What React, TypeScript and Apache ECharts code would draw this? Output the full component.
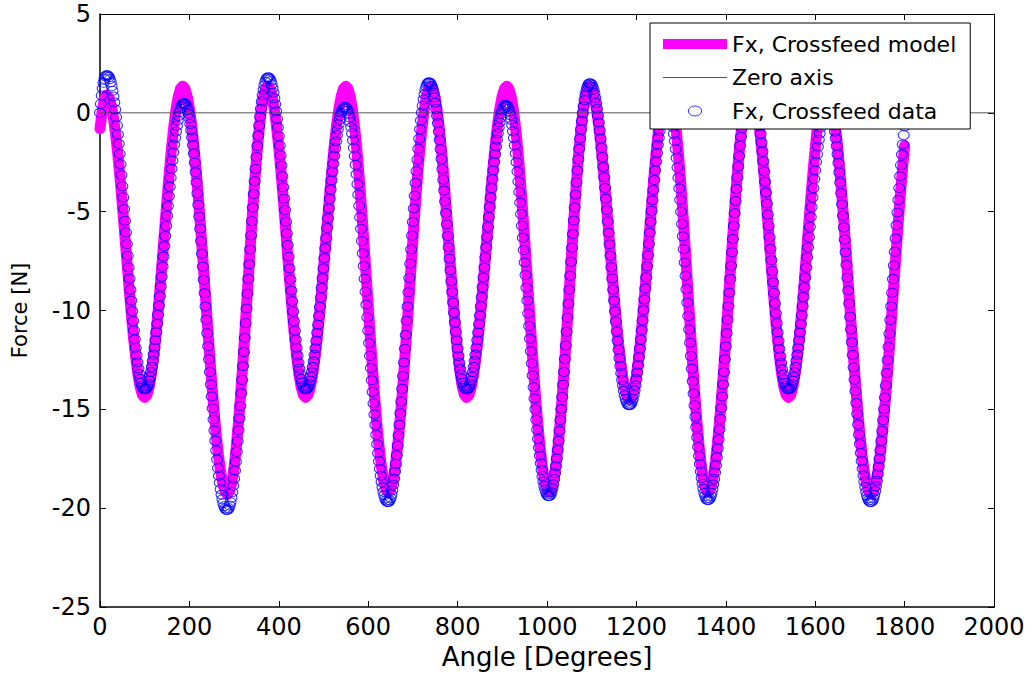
import React, { useEffect, useRef } from "react";
import * as echarts from "echarts";

// ---- axes ----
const X_MIN = 0;
const X_MAX = 2000;
const X_INTERVAL = 200;
const Y_MIN = -25;
const Y_MAX = 5;
const Y_INTERVAL = 5;

const X_TITLE = "Angle [Degrees]";
const Y_TITLE = "Force [N]";
const NAME_MODEL = "Fx, Crossfeed model";
const NAME_ZERO = "Zero axis";
const NAME_DATA = "Fx, Crossfeed data";

// ---- model (sampled every 5 degrees from 0) ----
const MODEL_START = 0;
const MODEL_STEP = 5;
const MODEL_FX = [
  -0.8, 0.1, 0.7, 0.9, 0.77, 0.38, -0.25, -1.10, -2.14, -3.34,
  -4.66, -6.04, -7.46, -8.84, -10.16, -11.36, -12.40, -13.25, -13.88, -14.27,
  -14.4, -14.27, -13.87, -13.22, -12.35, -11.27, -10.04, -8.68, -7.25, -5.80,
  -4.37, -3.01, -1.78, -0.71, 0.17, 0.82, 1.22, 1.35, 1.22, 0.84,
  0.22, -0.62, -1.67, -2.91, -4.29, -5.78, -7.36, -8.98, -10.59, -12.17,
  -13.66, -15.04, -16.28, -17.33, -18.17, -18.79, -19.17, -19.3, -19.14, -18.68,
  -17.92, -16.88, -15.61, -14.14, -12.51, -10.77, -8.98, -7.18, -5.44, -3.81,
  -2.34, -1.07, -0.03, 0.73, 1.19, 1.35, 1.22, 0.82, 0.17, -0.71,
  -1.78, -3.01, -4.37, -5.80, -7.25, -8.68, -10.04, -11.27, -12.34, -13.22,
  -13.87, -14.27, -14.4, -14.28, -13.92, -13.35, -12.56, -11.59, -10.46, -9.22,
  -7.89, -6.53, -5.16, -3.83, -2.59, -1.46, -0.49, 0.29, 0.87, 1.23,
  1.35, 1.21, 0.79, 0.11, -0.82, -1.96, -3.31, -4.80, -6.40, -8.08,
  -9.77, -11.45, -13.05, -14.54, -15.89, -17.03, -17.96, -18.64, -19.06, -19.2,
  -19.06, -18.64, -17.96, -17.03, -15.89, -14.54, -13.05, -11.45, -9.77, -8.08,
  -6.40, -4.80, -3.31, -1.96, -0.82, 0.11, 0.79, 1.21, 1.35, 1.20,
  0.75, 0.02, -0.96, -2.15, -3.51, -4.99, -6.53, -8.06, -9.54, -10.90,
  -12.09, -13.07, -13.80, -14.25, -14.4, -14.28, -13.92, -13.35, -12.56, -11.59,
  -10.46, -9.22, -7.89, -6.53, -5.16, -3.83, -2.59, -1.46, -0.49, 0.29,
  0.87, 1.23, 1.35, 1.21, 0.79, 0.11, -0.82, -1.96, -3.31, -4.80,
  -6.40, -8.08, -9.77, -11.45, -13.05, -14.54, -15.89, -17.03, -17.96, -18.64,
  -19.06, -19.2, -19.04, -18.58, -17.82, -16.80, -15.53, -14.06, -12.44, -10.71,
  -8.93, -7.14, -5.41, -3.79, -2.32, -1.05, -0.02, 0.73, 1.19, 1.35,
  1.23, 0.87, 0.29, -0.50, -1.48, -2.61, -3.86, -5.20, -6.58, -7.95,
  -9.29, -10.54, -11.67, -12.65, -13.44, -14.02, -14.38, -14.5, -14.37, -13.96,
  -13.31, -12.43, -11.35, -10.11, -8.74, -7.31, -5.84, -4.41, -3.04, -1.80,
  -0.72, 0.16, 0.81, 1.22, 1.35, 1.19, 0.73, -0.02, -1.05, -2.32,
  -3.79, -5.41, -7.14, -8.93, -10.71, -12.44, -14.06, -15.53, -16.80, -17.82,
  -18.58, -19.04, -19.2, -19.06, -18.64, -17.96, -17.03, -15.89, -14.54, -13.05,
  -11.45, -9.77, -8.08, -6.40, -4.80, -3.31, -1.96, -0.82, 0.11, 0.79,
  1.21, 1.35, 1.22, 0.82, 0.17, -0.71, -1.78, -3.01, -4.37, -5.80,
  -7.25, -8.68, -10.04, -11.27, -12.34, -13.22, -13.87, -14.27, -14.4, -14.27,
  -13.87, -13.22, -12.35, -11.27, -10.04, -8.68, -7.25, -5.80, -4.37, -3.01,
  -1.78, -0.71, 0.17, 0.82, 1.22, 1.35, 1.22, 0.84, 0.22, -0.62,
  -1.67, -2.91, -4.29, -5.78, -7.36, -8.98, -10.59, -12.17, -13.66, -15.04,
  -16.28, -17.33, -18.17, -18.79, -19.17, -19.3, -19.17, -18.79, -18.17, -17.33,
  -16.28, -15.04, -13.66, -12.17, -10.59, -8.98, -7.36, -5.78, -4.29, -2.91,
  -1.67,
];

// ---- measured data (sampled every 2 degrees from 0) ----
const DATA_START = 0;
const DATA_STEP = 2;
const DATA_FX = [
  0.0, 0.45, 0.88, 1.23, 1.52, 1.72, 1.84, 1.89, 1.9, 1.88,
  1.81, 1.70, 1.55, 1.35, 1.11, 0.83, 0.52, 0.17, -0.22, -0.64,
  -1.09, -1.57, -2.08, -2.60, -3.15, -3.71, -4.28, -4.87, -5.46, -6.05,
  -6.64, -7.23, -7.82, -8.39, -8.95, -9.50, -10.03, -10.53, -11.01, -11.46,
  -11.88, -12.27, -12.62, -12.93, -13.21, -13.45, -13.65, -13.80, -13.91, -13.98,
  -14.0, -13.98, -13.93, -13.83, -13.71, -13.54, -13.34, -13.11, -12.85, -12.55,
  -12.23, -11.88, -11.50, -11.09, -10.67, -10.22, -9.76, -9.28, -8.79, -8.29,
  -7.78, -7.27, -6.75, -6.23, -5.72, -5.21, -4.71, -4.22, -3.74, -3.28,
  -2.83, -2.41, -2.00, -1.62, -1.27, -0.95, -0.65, -0.39, -0.16, 0.04,
  0.21, 0.33, 0.43, 0.48, 0.5, 0.48, 0.41, 0.30, 0.15, -0.05,
  -0.28, -0.56, -0.88, -1.24, -1.63, -2.06, -2.52, -3.01, -3.53, -4.08,
  -4.65, -5.25, -5.86, -6.49, -7.13, -7.79, -8.45, -9.13, -9.80, -10.47,
  -11.15, -11.81, -12.47, -13.11, -13.74, -14.35, -14.95, -15.52, -16.07, -16.59,
  -17.08, -17.54, -17.97, -18.36, -18.72, -19.04, -19.32, -19.55, -19.75, -19.90,
  -20.01, -20.08, -20.1, -20.07, -20.00, -19.87, -19.70, -19.47, -19.19, -18.87,
  -18.51, -18.10, -17.65, -17.15, -16.62, -16.06, -15.46, -14.84, -14.19, -13.51,
  -12.82, -12.10, -11.38, -10.64, -9.90, -9.15, -8.40, -7.66, -6.92, -6.20,
  -5.48, -4.79, -4.11, -3.46, -2.84, -2.24, -1.68, -1.15, -0.65, -0.20,
  0.21, 0.57, 0.89, 1.17, 1.39, 1.57, 1.70, 1.77, 1.8, 1.78,
  1.71, 1.60, 1.45, 1.25, 1.02, 0.74, 0.43, 0.08, -0.31, -0.73,
  -1.18, -1.65, -2.15, -2.67, -3.21, -3.77, -4.34, -4.92, -5.51, -6.10,
  -6.69, -7.28, -7.86, -8.43, -8.99, -9.53, -10.05, -10.55, -11.02, -11.47,
  -11.89, -12.28, -12.63, -12.94, -13.22, -13.45, -13.65, -13.80, -13.91, -13.98,
  -14.0, -13.98, -13.93, -13.84, -13.71, -13.55, -13.35, -13.13, -12.86, -12.57,
  -12.25, -11.91, -11.53, -11.13, -10.72, -10.28, -9.82, -9.35, -8.86, -8.37,
  -7.87, -7.36, -6.85, -6.34, -5.83, -5.33, -4.84, -4.35, -3.88, -3.42,
  -2.98, -2.57, -2.17, -1.79, -1.45, -1.13, -0.84, -0.58, -0.35, -0.15,
  0.01, 0.14, 0.23, 0.28, 0.3, 0.28, 0.21, 0.11, -0.04, -0.23,
  -0.46, -0.73, -1.04, -1.39, -1.77, -2.18, -2.63, -3.11, -3.61, -4.14,
  -4.70, -5.28, -5.87, -6.49, -7.11, -7.75, -8.39, -9.05, -9.70, -10.35,
  -11.01, -11.65, -12.29, -12.91, -13.53, -14.12, -14.70, -15.26, -15.79, -16.29,
  -16.77, -17.22, -17.63, -18.01, -18.36, -18.67, -18.94, -19.17, -19.36, -19.51,
  -19.61, -19.68, -19.7, -19.67, -19.60, -19.48, -19.31, -19.09, -18.82, -18.51,
  -18.15, -17.76, -17.32, -16.84, -16.33, -15.78, -15.20, -14.60, -13.96, -13.31,
  -12.63, -11.94, -11.24, -10.52, -9.80, -9.08, -8.35, -7.63, -6.91, -6.21,
  -5.52, -4.84, -4.19, -3.55, -2.95, -2.37, -1.82, -1.31, -0.83, -0.39,
  0.00, 0.36, 0.67, 0.94, 1.16, 1.33, 1.45, 1.52, 1.55, 1.53,
  1.46, 1.36, 1.20, 1.01, 0.78, 0.51, 0.20, -0.15, -0.53, -0.94,
  -1.38, -1.84, -2.34, -2.85, -3.38, -3.93, -4.49, -5.07, -5.64, -6.23,
  -6.81, -7.38, -7.96, -8.52, -9.07, -9.60, -10.11, -10.61, -11.07, -11.51,
  -11.92, -12.30, -12.65, -12.96, -13.23, -13.46, -13.65, -13.81, -13.91, -13.98,
  -14.0, -13.98, -13.93, -13.84, -13.71, -13.55, -13.35, -13.12, -12.86, -12.56,
  -12.24, -11.89, -11.51, -11.11, -10.69, -10.25, -9.79, -9.32, -8.83, -8.33,
  -7.83, -7.31, -6.80, -6.29, -5.77, -5.27, -4.77, -4.28, -3.81, -3.35,
  -2.91, -2.49, -2.09, -1.71, -1.36, -1.04, -0.74, -0.48, -0.25, -0.05,
  0.11, 0.24, 0.33, 0.38, 0.4, 0.38, 0.31, 0.21, 0.06, -0.12,
  -0.35, -0.62, -0.93, -1.27, -1.65, -2.06, -2.50, -2.97, -3.47, -4.00,
  -4.55, -5.12, -5.71, -6.32, -6.94, -7.57, -8.21, -8.85, -9.50, -10.15,
  -10.79, -11.43, -12.06, -12.68, -13.29, -13.88, -14.45, -15.00, -15.53, -16.03,
  -16.50, -16.94, -17.35, -17.73, -18.07, -18.38, -18.65, -18.88, -19.06, -19.21,
  -19.31, -19.38, -19.4, -19.38, -19.30, -19.18, -19.01, -18.80, -18.53, -18.23,
  -17.88, -17.49, -17.06, -16.59, -16.08, -15.54, -14.98, -14.38, -13.76, -13.11,
  -12.45, -11.77, -11.08, -10.37, -9.66, -8.95, -8.24, -7.53, -6.82, -6.13,
  -5.45, -4.79, -4.14, -3.52, -2.92, -2.36, -1.82, -1.31, -0.84, -0.41,
  -0.02, 0.33, 0.64, 0.90, 1.11, 1.28, 1.40, 1.48, 1.5, 1.48,
  1.42, 1.31, 1.17, 0.99, 0.76, 0.50, 0.21, -0.13, -0.49, -0.89,
  -1.31, -1.77, -2.24, -2.74, -3.26, -3.80, -4.35, -4.92, -5.49, -6.07,
  -6.65, -7.23, -7.81, -8.38, -8.95, -9.50, -10.04, -10.56, -11.06, -11.53,
  -11.99, -12.41, -12.81, -13.17, -13.51, -13.80, -14.06, -14.29, -14.47, -14.61,
  -14.72, -14.78, -14.8, -14.78, -14.72, -14.61, -14.46, -14.27, -14.05, -13.78,
  -13.48, -13.14, -12.77, -12.37, -11.94, -11.48, -11.00, -10.50, -9.98, -9.44,
  -8.89, -8.33, -7.77, -7.20, -6.63, -6.07, -5.51, -4.96, -4.42, -3.90,
  -3.40, -2.92, -2.46, -2.03, -1.63, -1.26, -0.92, -0.62, -0.35, -0.13,
  0.06, 0.21, 0.32, 0.38, 0.4, 0.38, 0.31, 0.19, 0.03, -0.18,
  -0.43, -0.72, -1.06, -1.43, -1.84, -2.29, -2.77, -3.29, -3.83, -4.40,
  -5.00, -5.62, -6.25, -6.90, -7.57, -8.24, -8.92, -9.60, -10.28, -10.96,
  -11.63, -12.30, -12.95, -13.58, -14.20, -14.80, -15.37, -15.91, -16.43, -16.91,
  -17.36, -17.77, -18.14, -18.48, -18.77, -19.02, -19.23, -19.39, -19.51, -19.58,
  -19.6, -19.58, -19.51, -19.40, -19.24, -19.04, -18.80, -18.52, -18.19, -17.83,
  -17.43, -16.99, -16.53, -16.02, -15.49, -14.93, -14.35, -13.74, -13.12, -12.47,
  -11.82, -11.15, -10.47, -9.79, -9.10, -8.41, -7.73, -7.05, -6.38, -5.73,
  -5.08, -4.46, -3.85, -3.27, -2.71, -2.18, -1.67, -1.21, -0.77, -0.37,
  -0.01, 0.32, 0.60, 0.84, 1.04, 1.20, 1.31, 1.38, 1.4, 1.38,
  1.31, 1.21, 1.06, 0.87, 0.64, 0.37, 0.06, -0.28, -0.66, -1.06,
  -1.50, -1.96, -2.45, -2.96, -3.49, -4.03, -4.59, -5.15, -5.72, -6.30,
  -6.88, -7.45, -8.01, -8.57, -9.11, -9.64, -10.15, -10.64, -11.10, -11.54,
  -11.94, -12.32, -12.66, -12.97, -13.24, -13.47, -13.66, -13.81, -13.91, -13.98,
  -14.0, -13.98, -13.93, -13.84, -13.71, -13.55, -13.35, -13.12, -12.86, -12.56,
  -12.24, -11.89, -11.51, -11.11, -10.69, -10.25, -9.79, -9.32, -8.83, -8.33,
  -7.83, -7.31, -6.80, -6.29, -5.77, -5.27, -4.77, -4.28, -3.81, -3.35,
  -2.91, -2.49, -2.09, -1.71, -1.36, -1.04, -0.74, -0.48, -0.25, -0.05,
  0.11, 0.24, 0.33, 0.38, 0.4, 0.38, 0.31, 0.21, 0.06, -0.13,
  -0.37, -0.64, -0.95, -1.29, -1.68, -2.09, -2.54, -3.02, -3.53, -4.07,
  -4.63, -5.21, -5.80, -6.42, -7.05, -7.69, -8.34, -8.99, -9.65, -10.31,
  -10.96, -11.61, -12.25, -12.88, -13.50, -14.09, -14.68, -15.23, -15.77, -16.28,
  -16.76, -17.21, -17.62, -18.01, -18.35, -18.66, -18.93, -19.17, -19.36, -19.51,
  -19.61, -19.68, -19.7, -19.68, -19.61, -19.50, -19.34, -19.14, -18.89, -18.61,
  -18.28, -17.91, -17.51, -17.07, -16.60, -16.09, -15.55, -14.99, -14.40, -13.79,
  -13.16, -12.51, -11.84, -11.17, -10.48, -9.79, -9.10, -8.41, -7.72, -7.03,
  -6.36, -5.69, -5.04, -4.41, -3.80, -3.21, -2.65, -2.11, -1.60, -1.13,
  -0.69,
];

// ---- zero reference line ----
const ZERO_X = [0, 2000];
const ZERO_Y = [0, 0];

const FONT = "DejaVu Sans";
const MAGENTA = "#ff00ff";
const BLUE = "#0000ff";
const ZERO_COLOR = "#555555";
const ELLIPSE = "path://M0,4.5A6,4.5,0,1,1,12,4.5A6,4.5,0,1,1,0,4.5Z";
const THIN_BAR = "path://M0,0H64V1H0Z";

export default function App() {
  const ref = useRef<HTMLDivElement>(null);

  useEffect(() => {
    if (!ref.current) return;
    const chart = echarts.init(ref.current, null, { renderer: "svg" });

    const modelData = MODEL_FX.map((v, i) => [MODEL_START + i * MODEL_STEP, v]);
    const dataPts = DATA_FX.map((v, i) => [DATA_START + i * DATA_STEP, v]);
    const zeroData = ZERO_X.map((x, i) => [x, ZERO_Y[i]]);

    const axisLine = { show: true, onZero: false, lineStyle: { color: "#000", width: 1.5 } };
    const axisLineThin = { show: true, onZero: false, lineStyle: { color: "#000", width: 1 } };
    const tick = { show: true, inside: true, length: 6, lineStyle: { color: "#000", width: 1 } };
    const plain = (v: number) => String(v);

    const option: any = {
      animation: false,
      backgroundColor: "#fff",
      grid: { left: 100, right: 38, top: 14, bottom: 69, containLabel: false, outerBoundsMode: "none" },
      legend: {
        orient: "vertical",
        left: 650,
        top: 23,
        z: 20,
        zlevel: 0,
        itemWidth: 64,
        itemHeight: 10,
        itemGap: 11.5,
        padding: [10, 14, 7, 13],
        backgroundColor: "#fff",
        borderColor: "#000",
        borderWidth: 1,
        borderRadius: 0,
        selectedMode: false,
        textStyle: { fontSize: 22, fontFamily: FONT, color: "#000" },
        data: [
          { name: NAME_MODEL, icon: "rect", itemStyle: { color: MAGENTA } },
          { name: NAME_ZERO, icon: THIN_BAR, itemStyle: { color: ZERO_COLOR } },
          {
            name: NAME_DATA,
            icon: ELLIPSE,
            itemStyle: { color: "rgba(0,0,0,0)", borderColor: BLUE, borderWidth: 1 },
          },
        ],
      },
      xAxis: [
        {
          type: "value",
          position: "bottom",
          min: X_MIN,
          max: X_MAX,
          interval: X_INTERVAL,
          axisLine,
          axisTick: tick,
          splitLine: { show: false },
          axisLabel: { margin: 8, fontSize: 24, fontFamily: FONT, color: "#000", formatter: plain },
          name: X_TITLE,
          nameLocation: "middle",
          nameGap: 36,
          nameTextStyle: { fontSize: 26, fontFamily: FONT, color: "#000" },
        },
        {
          type: "value",
          position: "top",
          min: X_MIN,
          max: X_MAX,
          interval: X_INTERVAL,
          axisLine: axisLineThin,
          axisTick: tick,
          axisLabel: { show: false },
          splitLine: { show: false },
        },
      ],
      yAxis: [
        {
          type: "value",
          position: "left",
          min: Y_MIN,
          max: Y_MAX,
          interval: Y_INTERVAL,
          axisLine,
          axisTick: tick,
          splitLine: { show: false },
          axisLabel: { margin: 9, fontSize: 24, fontFamily: FONT, color: "#000", formatter: plain },
          name: Y_TITLE,
          nameLocation: "middle",
          nameGap: 70,
          nameTextStyle: { fontSize: 21, fontFamily: FONT, color: "#000" },
        },
        {
          type: "value",
          position: "right",
          min: Y_MIN,
          max: Y_MAX,
          interval: Y_INTERVAL,
          axisLine: axisLineThin,
          axisTick: tick,
          axisLabel: { show: false },
          splitLine: { show: false },
        },
      ],
      series: [
        {
          name: NAME_MODEL,
          type: "line",
          data: modelData,
          symbol: "none",
          showSymbol: false,
          silent: true,
          z: 1,
          itemStyle: { color: MAGENTA },
          lineStyle: { color: MAGENTA, width: 11, join: "round", cap: "round" },
        },
        {
          name: NAME_ZERO,
          type: "line",
          data: zeroData,
          symbol: "none",
          showSymbol: false,
          silent: true,
          z: 2,
          itemStyle: { color: ZERO_COLOR },
          lineStyle: { color: ZERO_COLOR, width: 1 },
        },
        {
          name: NAME_DATA,
          type: "scatter",
          data: dataPts,
          symbol: ELLIPSE,
          symbolSize: [11, 9],
          silent: true,
          z: 3,
          itemStyle: { color: "rgba(0,0,0,0)", borderColor: BLUE, borderWidth: 1 },
        },
      ],
    };

    chart.setOption(option);
    return () => chart.dispose();
  }, []);

  return (
    <div
      ref={ref}
      style={{ position: "fixed", left: 0, top: 0, width: 1032, height: 676, background: "#fff" }}
    />
  );
}
